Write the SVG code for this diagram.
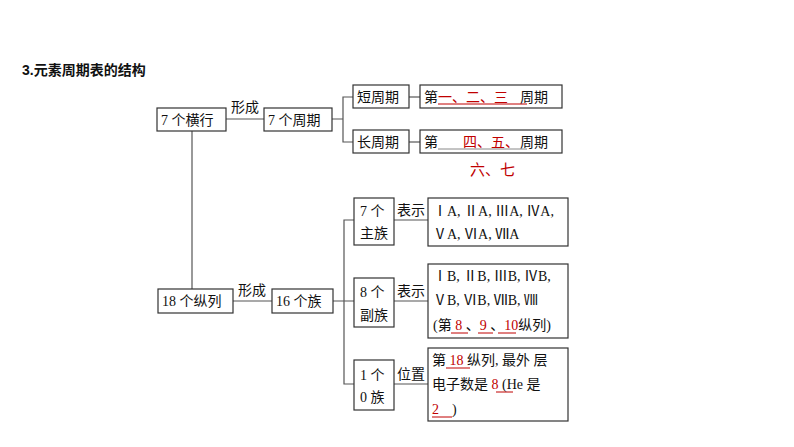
<svg xmlns="http://www.w3.org/2000/svg" width="794" height="447" viewBox="0 0 794 447">
<style>
text{font-family:"Liberation Serif","Noto Sans CJK SC",serif;font-size:14px;fill:#111}
.b rect{fill:#fff;stroke:#333;stroke-width:1.2}
.r{fill:#c00000}
.c line,.c path{stroke:#555;stroke-width:1.2;fill:none}
.u{stroke:#c00000;stroke-width:1}
</style>
<rect width="794" height="447" fill="#fff"/>
<text x="22" y="75" style="font-weight:bold;font-family:'Liberation Sans','Noto Sans CJK SC',sans-serif">3.元素周期表的结构</text>
<g class="c" id="connectors">
<line x1="226" y1="119" x2="264" y2="119"/>
<path d="M332 119H343M353 97H343V142H353"/>
<line x1="409" y1="97" x2="420" y2="97"/>
<line x1="409" y1="142" x2="420" y2="142"/>
<line x1="192" y1="131" x2="192" y2="289"/>
<line x1="233" y1="301" x2="272" y2="301"/>
<path d="M333 301H354M354 220H344V384H354"/>
<line x1="394" y1="220" x2="428" y2="220"/>
<line x1="394" y1="301" x2="428" y2="301"/>
<line x1="394" y1="384" x2="428" y2="384"/>
</g>
<text x="231" y="112">形成</text>
<text x="238" y="295">形成</text>
<text x="397" y="215">表示</text>
<text x="397" y="296">表示</text>
<text x="397" y="379">位置</text>
<g class="b" id="n1"><rect x="157" y="108" width="69" height="23"/><text x="161" y="125">7 个横行</text></g>
<g class="b" id="n2"><rect x="264" y="108" width="68" height="23"/><text x="268" y="125">7 个周期</text></g>
<g class="b" id="n3"><rect x="353" y="85" width="56" height="23"/><text x="357" y="102">短周期</text></g>
<g class="b" id="n4"><rect x="420" y="85" width="142" height="23"/><text x="424" y="102">第<tspan class="r">一、二、三</tspan></text><text x="520" y="102">周期</text><line class="u" x1="438" y1="104" x2="527" y2="104"/></g>
<g class="b" id="n5"><rect x="353" y="130" width="56" height="23"/><text x="357" y="147">长周期</text></g>
<g class="b" id="n6"><rect x="420" y="130" width="142" height="23"/><text x="424" y="147">第</text><text x="463" y="147" class="r">四、五、</text><text x="520" y="147">周期</text><line class="u" x1="438" y1="149" x2="527" y2="149" style="stroke:#888"/></g>
<text x="470" y="175" class="r" style="font-size:15px">六、七</text>
<g class="b" id="n7"><rect x="158" y="289" width="75" height="24"/><text x="162" y="306">18 个纵列</text></g>
<g class="b" id="n8"><rect x="272" y="289" width="61" height="24"/><text x="276" y="306">16 个族</text></g>
<g class="b" id="n9"><rect x="354" y="198" width="40" height="47"/><text x="360" y="216">7 个</text><text x="360" y="238">主族</text></g>
<g class="b" id="n10"><rect x="354" y="278" width="40" height="49"/><text x="360" y="297">8 个</text><text x="360" y="320">副族</text></g>
<g class="b" id="n11"><rect x="354" y="360" width="40" height="50"/><text x="360" y="380">1 个</text><text x="360" y="402">0 族</text></g>
<g class="b" id="n12"><rect x="428" y="198" width="140" height="48"/><text x="433" y="216">ⅠA, ⅡA, ⅢA, ⅣA,</text><text x="433" y="239">ⅤA, ⅥA, ⅦA</text></g>
<g class="b" id="n13"><rect x="428" y="264" width="140" height="74"/><text x="433" y="281">ⅠB, ⅡB, ⅢB, ⅣB,</text><text x="433" y="305">ⅤB, ⅥB, ⅦB, Ⅷ</text><text x="433" y="330">(第 <tspan class="r">8</tspan> 、<tspan class="r">9</tspan> 、<tspan class="r">10</tspan>纵列)</text><line class="u" x1="451" y1="333" x2="468" y2="333"/><line class="u" x1="478" y1="333" x2="493" y2="333"/><line class="u" x1="498" y1="333" x2="516" y2="333"/></g>
<g class="b" id="n14"><rect x="428" y="348" width="140" height="73"/><text x="432" y="365">第<tspan class="r"> 18 </tspan>纵列, 最外 层</text><text x="432" y="389">电子数是 <tspan class="r">8</tspan> (He 是</text><text x="432" y="414" class="r"> 2 </text><text x="452" y="414">)</text><line class="u" x1="446" y1="368" x2="470" y2="368"/><line class="u" x1="496" y1="392" x2="513" y2="392"/><line class="u" x1="432" y1="417" x2="452" y2="417"/></g>
</svg>
